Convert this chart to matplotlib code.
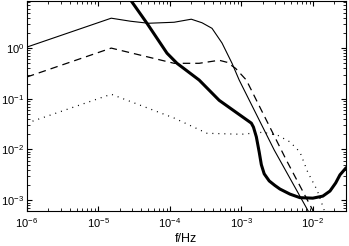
import matplotlib
matplotlib.use("Agg")
import matplotlib.pyplot as plt
import numpy as np

plt.rcParams['font.family'] = ['Liberation Sans', 'DejaVu Sans']
plt.rcParams['mathtext.fontset'] = 'custom'
plt.rcParams['mathtext.rm'] = 'Liberation Sans'
plt.rcParams['mathtext.it'] = 'Liberation Sans:italic'

# log10(f) and log10(value)
thin_x = [-6.0, -4.82, -4.55, -4.30, -3.94, -3.70, -3.55, -3.41, -3.27, -3.13, -3.03, -2.54, -2.07, -2.0]
thin_y = [0.02, 0.59, 0.53, 0.49, 0.51, 0.57, 0.50, 0.39, 0.10, -0.30, -0.63, -2.01, -3.20, -3.40]

dash_x = [-6.0, -4.82, -3.94, -3.59, -3.31, -3.20, -3.08, -2.93, -2.37, -2.0, -1.95]
dash_y = [-0.57, 0.0, -0.30, -0.30, -0.24, -0.28, -0.40, -0.63, -2.21, -3.20, -3.35]

dot_x = [-6.0, -4.82, -3.94, -3.48, -3.0, -2.70, -2.49, -2.32, -2.18, -2.07, -1.94, -1.84, -1.80]
dot_y = [-1.48, -0.91, -1.38, -1.68, -1.70, -1.66, -1.72, -1.85, -2.05, -2.45, -2.80, -3.20, -3.35]

thick_x = [-4.61, -4.32, -4.04, -3.90, -3.59, -3.31, -2.86, -2.83, -2.79, -2.75, -2.72, -2.68,
           -2.61, -2.53, -2.46, -2.32, -2.18, -2.0, -1.86, -1.76, -1.68, -1.62, -1.54]
thick_y = [1.07, 0.49, -0.10, -0.30, -0.63, -1.03, -1.48, -1.56, -1.75, -2.05, -2.30, -2.48,
           -2.62, -2.71, -2.78, -2.88, -2.95, -2.96, -2.92, -2.82, -2.66, -2.50, -2.37]


def p(a):
    return 10.0 ** np.array(a)


fig = plt.figure(figsize=(3.49, 2.46), dpi=100)
ax = fig.add_axes([0.077, 0.142, 0.914, 0.854])

ax.loglog(p(thin_x), p(thin_y), color='k', lw=0.8)
ax.loglog(p(dash_x), p(dash_y), color='k', lw=0.9, dashes=(6, 4))
ax.loglog(p(dot_x), p(dot_y), color='k', lw=0.9, dashes=(0.8, 4))
ax.loglog(p(thick_x), p(thick_y), color='k', lw=2.2, solid_joinstyle='round')

ax.set_xlim(1e-6, 2.9e-2)
ax.set_ylim(6.1e-4, 8.5)
ax.set_xticks([1e-6, 1e-5, 1e-4, 1e-3, 1e-2])
ax.set_yticks([1e-3, 1e-2, 1e-1, 1e0])
ax.tick_params(which='both', direction='in', top=True, right=True, labelsize=8)
ax.tick_params(which='major', length=3.5, pad=2)
ax.tick_params(which='minor', length=2)
ax.tick_params(axis='x', which='major', pad=4)
for s in ax.spines.values():
    s.set_linewidth(0.8)
ax.set_xlabel('f/Hz', fontsize=9, labelpad=2)

fig.savefig('out.png', dpi=100)
